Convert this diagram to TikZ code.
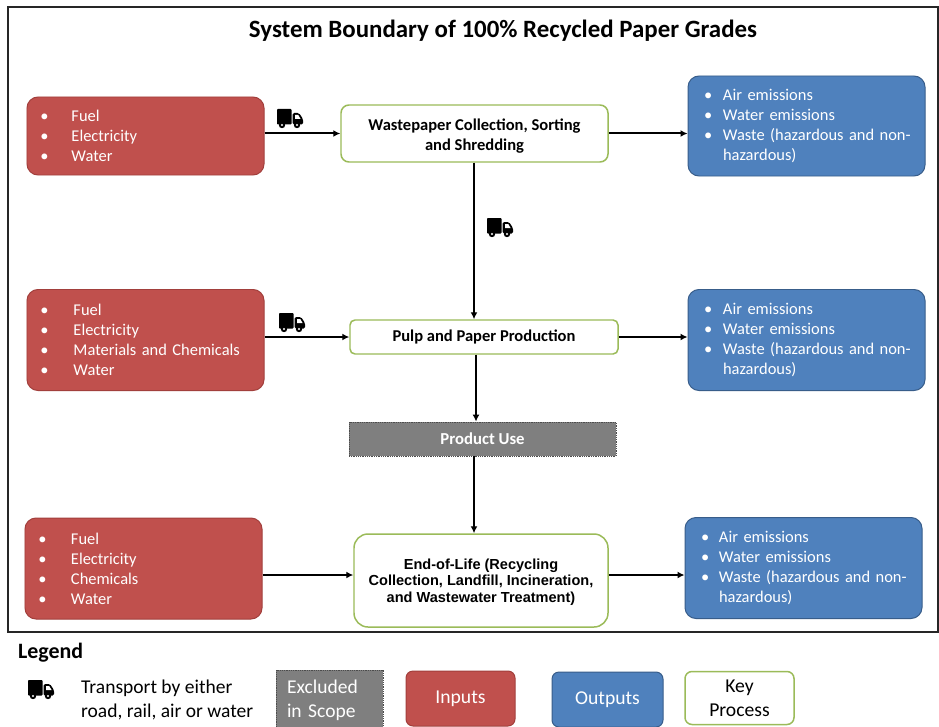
\documentclass[tikz,border=0pt]{standalone}
\usepackage{fontspec}
\setmainfont{Carlito}
\newfontfamily\arialf{Liberation Sans}
\usetikzlibrary{arrows.meta}
\definecolor{redf}{HTML}{C0504D}
\definecolor{redd}{HTML}{A23F3C}
\definecolor{bluef}{HTML}{4F81BD}
\definecolor{blued}{HTML}{385D8A}
\definecolor{greend}{HTML}{9BBB59}
\definecolor{greyf}{HTML}{7F7F7F}
\newcommand{\bulX}[1]{\makebox[#1bp][l]{\textbullet}}
\newcommand{\lsz}{\fontsize{16.5}{20}\selectfont}
\tikzset{
  x=1bp,y=-1bp,
  box/.style={rounded corners=11bp,line width=1pt,minimum height=#1,inner sep=0pt,align=left,text=white,font=\lsz},
  inbox/.style={box=#1,fill=redf,draw=redd},
  outbox/.style={box=#1,fill=bluef,draw=blued},
  keybox/.style={rounded corners=8bp,draw=greend,line width=1.5pt,fill=white,align=center,text=black,inner sep=0pt,font=\fontsize{16.6}{20}\selectfont\bfseries},
  excl/.style={fill=greyf,draw=black!70,densely dotted,line width=0.8pt,inner sep=0pt,text=white},
  flow/.style={-{Latex[length=7bp,width=7bp]},line width=2bp,black},
  legbox/.style={rounded corners=7bp,inner sep=0pt,align=center,font=\fontsize{19.7}{24}\selectfont},
  pics/truck/.style={code={
    \fill[black,rounded corners=0.8bp] (0,0) rectangle (14.5,15.5);
    \fill[black,rounded corners=1.5bp] (15.5,4) -- (22,4) -- (26,10) -- (26,15.5) -- (15.5,15.5) -- cycle;
    \fill[white] (18,6) -- (21.2,6) -- (23.6,10) -- (18,10) -- cycle;
    \fill[black] (5,16) circle (3.2);
    \fill[black] (20,16) circle (3.2);
    \fill[white] (5,16) circle (1.1);
    \fill[white] (20,16) circle (1.1);
  }}
}
\begin{document}
\begin{tikzpicture}
\useasboundingbox (0,0) rectangle (939,727);
\fill[white] (0,0) rectangle (939,727);
\draw[line width=2pt,black!85] (8,7) rectangle (938,632);
\node[font=\fontsize{25}{28}\selectfont\bfseries] (title) at (503,31) {System Boundary of 100\% Recycled Paper Grades};

% inputs
\node[inbox=78bp,minimum width=237bp,text width=210bp] (i1) at (145.5,136) {\bulX{31}Fuel\\\bulX{31}Electricity\\\bulX{31}Water};
\node[inbox=101bp,minimum width=237bp,text width=210bp] (i2) at (145.5,340) {\bulX{33}Fuel\\\bulX{33}Electricity\\\bulX{33}Materials and Chemicals\\\bulX{33}Water};
\node[inbox=101bp,minimum width=237bp,text width=210bp] (i3) at (143.5,568.5) {\bulX{32.5}Fuel\\\bulX{32.5}Electricity\\\bulX{32.5}Chemicals\\\bulX{32.5}Water};

% outputs
\node[outbox=100bp,minimum width=237bp,text width=205bp] (o1) at (806.5,126) {\bulX{19}Air emissions\\\bulX{19}Water emissions\\\mbox{\bulX{19}Waste (hazardous and non-}\\\hspace*{19bp}hazardous)};
\node[outbox=101bp,minimum width=237bp,text width=205bp] (o2) at (806.5,340) {\bulX{19}Air emissions\\\bulX{19}Water emissions\\\mbox{\bulX{19}Waste (hazardous and non-}\\\hspace*{19bp}hazardous)};
\node[outbox=101bp,minimum width=237bp,text width=205bp] (o3) at (803.5,568) {\bulX{18}Air emissions\\\bulX{18}Water emissions\\\mbox{\bulX{18}Waste (hazardous and non-}\\\hspace*{18bp}hazardous)};

% key processes
\node[keybox,minimum width=267bp,minimum height=57bp] (k1) at (474.5,133.5) {\rule{0pt}{17bp}Wastepaper Collection, Sorting\\and Shredding};
\node[keybox,minimum width=268bp,minimum height=34bp,rounded corners=5bp] (k2) at (484,337) {Pulp and Paper Production};
\node[excl,minimum width=267bp,minimum height=34bp,font=\fontsize{16.8}{18}\selectfont\bfseries] (pu) at (482.5,439) {Product Use};
\node[keybox,minimum width=254bp,minimum height=93bp,rounded corners=14bp,font=\arialf\fontsize{14.6}{17}\selectfont\bfseries] (k3) at (481,580.5) {\rule{0pt}{14bp}End-of-Life (Recycling\\Collection, Landfill, Incineration,\\and Wastewater Treatment)};

% connectors
\draw[flow] (i1.east |- k1.west) -- (k1.west);
\draw[flow] (k1.east) -- (o1.west |- k1.east);
\draw[flow] (k1.south -| 474,0) -- (k2.north -| 474,0);
\draw[flow] (i2.east |- k2.west) -- (k2.west);
\draw[flow] (k2.east) -- (o2.west |- k2.east);
\draw[flow] (k2.south -| 476,0) -- (pu.north -| 476,0);
\draw[flow] (pu.south -| 474,0) -- (k3.north -| 474,0);
\draw[flow] (i3.east |- 0,575) -- (k3.west |- 0,575);
\draw[flow] (k3.east |- 0,575) -- (o3.west |- 0,575);

% trucks
\pic at (277,109) {truck};
\pic at (487,218) {truck};
\pic at (279,313) {truck};
\pic at (28,680) {truck};

% legend
\node[anchor=west,inner sep=0pt,font=\fontsize{22}{24}\selectfont\bfseries] (lg) at (18,653) {Legend};
\node[anchor=north west,align=left,inner sep=0pt,font=\fontsize{19.6}{24}\selectfont] (lt) at (81,680) {Transport by either\\road, rail, air or water};
\node[excl,minimum width=107bp,minimum height=60bp,align=left,text width=85bp,font=\fontsize{19.6}{24}\selectfont] (lx) at (329.5,700) {Excluded\\in Scope};
\node[legbox,fill=redf,draw=redd,line width=1pt,text=white,minimum width=109bp,minimum height=55bp] (li) at (460.5,698.5) {Inputs};
\node[legbox,fill=bluef,draw=blued,line width=1pt,text=white,minimum width=111bp,minimum height=55bp] (lo) at (607.5,699.5) {Outputs};
\node[legbox,draw=greend,line width=1.5pt,fill=white,minimum width=109bp,minimum height=53bp] (lk) at (739.5,698) {Key\\Process};
\end{tikzpicture}
\end{document}
